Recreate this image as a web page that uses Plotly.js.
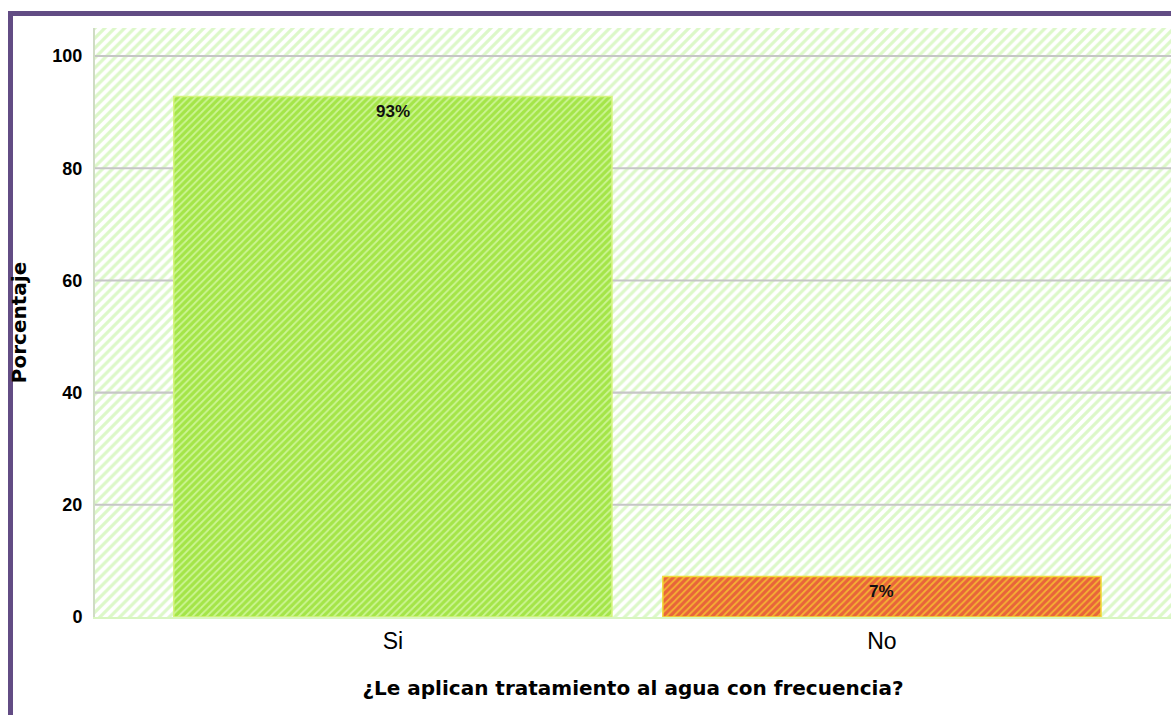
<!DOCTYPE html>
<html><head><meta charset="utf-8">
<script src="https://cdn.plot.ly/plotly-3.0.1.min.js"></script>
<style>
html,body{margin:0;padding:0;background:#fff;overflow:hidden;width:1171px;height:715px;}
#frame{position:absolute;left:8px;top:11px;width:1300px;height:900px;border:5px solid #624c84;box-sizing:border-box;}
#chart{position:absolute;left:0;top:0;width:1171px;height:715px;}
</style></head>
<body>
<div id="frame"></div>
<div id="chart"></div>
<script>
const categories = ["Si", "No"];
const percentages = [92.8, 7.2];
const labels = ["93%", "7%"];
const yTicks = [0, 20, 40, 60, 80, 100];
const xTitle = "¿Le aplican tratamiento al agua con frecuencia?";
const yTitle = "Porcentaje";

const xRange = [-0.609, 1.591];
const yRange = [0, 105];
const xCenter = (xRange[0] + xRange[1]) / 2;
const xSpan = xRange[1] - xRange[0];
const catIdx = categories.map((c, i) => i);
const gridTicks = yTicks.filter(v => v > 0);
const gridH = 0.36;

const bgTrace = {
  type: 'bar', x: [xCenter], y: [yRange[1]], width: [xSpan],
  marker: {color: '#dff9cc', line: {width: 0},
    pattern: {shape: '/', size: 7, solidity: 0.45, fillmode: 'replace', fgcolor: '#dcf8c8', bgcolor: '#ffffff'}},
  hoverinfo: 'skip', showlegend: false
};
const gridTrace = {
  type: 'bar', x: gridTicks.map(() => xCenter), base: gridTicks.map(v => v - gridH / 2),
  y: gridTicks.map(() => gridH), width: gridTicks.map(() => xSpan),
  marker: {color: '#c6c6c6', line: {width: 0}},
  hoverinfo: 'skip', showlegend: false
};
const barColors = ['#a4e548', '#e8643a'];
const stripeColors = ['#ccf594', '#f5b233'];
const edgeColors = ['#d6f57e', '#f2dc3a'];
const barTraces = categories.map((c, i) => ({
  type: 'bar', x: [catIdx[i]], y: [percentages[i]], width: [0.896],
  marker: {
    color: barColors[i],
    line: {color: edgeColors[i], width: 1.5},
    pattern: {shape: '/', size: 5, solidity: 0.35, fillmode: 'replace',
      bgcolor: barColors[i], fgcolor: stripeColors[i]}
  },
  hoverinfo: 'y', showlegend: false, name: c
}));

const annotations = categories.map((c, i) => ({
  x: catIdx[i], y: percentages[i], xref: 'x', yref: 'y', text: labels[i],
  showarrow: false, yanchor: 'middle', yshift: -15,
  font: {family: 'Liberation Sans, Arial, sans-serif', size: 17, color: '#111', weight: 'bold'}
}));

const layout = {
  width: 1171, height: 715,
  margin: {l: 95, r: 0, t: 28, b: 98},
  paper_bgcolor: 'rgba(0,0,0,0)', plot_bgcolor: '#ffffff',
  barmode: 'overlay',
  annotations: annotations,
  xaxis: {
    range: xRange, tickvals: catIdx, ticktext: categories, showgrid: false, zeroline: false,
    showline: true, linecolor: '#d8f6c0', linewidth: 2, ticks: '', ticklabelstandoff: 2,
    tickfont: {family: 'Liberation Sans, Arial, sans-serif', size: 23, color: '#000'},
    title: {text: xTitle, standoff: 28, font: {family: 'DejaVu Sans, sans-serif', size: 20, color: '#000', weight: 'bold'}}
  },
  yaxis: {
    range: yRange, tickvals: yTicks, ticks: '', ticklabelstandoff: 7,
    showgrid: false, zeroline: false,
    showline: true, linecolor: '#cfdcc4', linewidth: 2,
    tickfont: {family: 'Liberation Sans, Arial, sans-serif', size: 18, color: '#000', weight: 'bold'},
    title: {text: yTitle, standoff: 20, font: {family: 'DejaVu Sans, sans-serif', size: 20, color: '#000', weight: 'bold'}}
  }
};

Plotly.newPlot('chart', [bgTrace, gridTrace].concat(barTraces), layout, {displayModeBar: false, staticPlot: true});
</script>
</body></html>
